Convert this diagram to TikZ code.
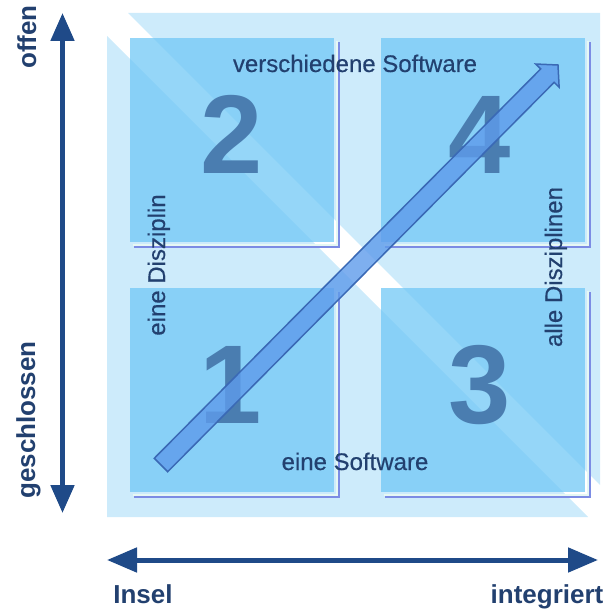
\documentclass[tikz,border=0pt]{standalone}
\usepackage{fontspec}
\setmainfont{Liberation Sans}
\newfontfamily\capfont[FakeBold=0.4]{Liberation Sans}
\usetikzlibrary{arrows.meta,calc}

\definecolor{bgblue}{HTML}{CDEBFB}
\definecolor{quadfill}{HTML}{71C8F6}
\definecolor{quadedge}{HTML}{7C8CE4}
\definecolor{quadlight}{HTML}{E6F8F4}
\definecolor{numblue}{HTML}{4A7DB0}
\definecolor{labelnavy}{HTML}{22406F}
\definecolor{axisnavy}{HTML}{1F4A88}
\definecolor{arrowfill}{HTML}{5E9BEB}
\definecolor{arrowedge}{HTML}{3A69B5}

\tikzset{
  quad/.style={fill=quadfill, fill opacity=0.75, draw=none, inner sep=0pt, outer sep=0pt,
    minimum width=204pt, minimum height=204pt, anchor=north west},
  quadshadow/.style={draw=quadedge, line width=2pt},
  quadglow/.style={draw=quadlight, line width=2pt},
  number/.style={font=\fontsize{112}{112}\selectfont\bfseries, text=numblue, anchor=base, inner sep=0pt},
  caption/.style={font=\capfont\fontsize{24}{28}\selectfont, text=labelnavy, inner sep=0pt, anchor=base},
  axislabel/.style={font=\fontsize{26}{30}\selectfont\bfseries, text=labelnavy, inner sep=0pt, anchor=base},
  axis/.style={draw=axisnavy, line width=5pt,
    {Triangle[length=28pt,width=23pt]}-{Triangle[length=28pt,width=23pt]}},
  progress/.style={fill=arrowfill, fill opacity=0.8, draw=arrowedge, line width=1.5pt, line join=miter}
}

\begin{document}
\begin{tikzpicture}[x=1pt,y=-1pt]
\useasboundingbox (0,0) rectangle (611,610);

% background: two triangles split by a pale diagonal
\fill[bgblue] (128,13) -- (600,13) -- (600,485) -- cycle;
\fill[bgblue] (107,36) -- (107,517) -- (588,517) -- cycle;

% the four quadrants
\node[quad] (q2) at (130,38) {};
\node[quad] (q4) at (381,38) {};
\node[quad] (q1) at (130,288) {};
\node[quad] (q3) at (381,288) {};

\foreach \q in {q1,q2,q3,q4}{
  \draw[quadglow] ($(\q.south west)+(3,2.5)$) -- ($(\q.south east)+(2.5,2.5)$) -- ($(\q.north east)+(2.5,3)$);
  \draw[quadshadow] ($(\q.south west)+(4,5)$) -- ($(\q.south east)+(5,5)$) -- ($(\q.north east)+(5,4)$);
}

% quadrant numbers
\node[number] (n2) at (232,173) {2};
\node[number] (n4) at (480,173) {4};
\node[number] (n1) at (231,423) {1};
\node[number] (n3) at (480,423) {3};

% captions inside the matrix
\node[caption] (top) at (355,72) {verschiedene Software};
\node[caption] (bottom) at (355,470) {eine Software};
\node[caption, rotate=90] (left) at (165,265) {eine Disziplin};
\node[caption, rotate=90] (right) at (562,267) {alle Disziplinen};

% diagonal development arrow
\coordinate (S) at (161,465);
\coordinate (T) at (558,65);
\coordinate (H) at ($(T)!15pt!(S)$);
\filldraw[progress]
  ($(S)!9.5pt!90:(T)$) -- ($(H)!9.5pt!-90:(S)$) -- ($(H)!16.5pt!-90:(S)$) -- (T)
  -- ($(H)!16.5pt!90:(S)$) -- ($(H)!9.5pt!90:(S)$) -- ($(S)!9.5pt!-90:(T)$) -- cycle;

% axes
\coordinate (vtop) at (62.5,13);
\coordinate (vbot) at (62.5,513);
\draw[axis] (vbot) -- (vtop);
\coordinate (hleft) at (107,560);
\coordinate (hright) at (598,560);
\draw[axis, {Triangle[length=30pt,width=24pt]}-{Triangle[length=30pt,width=24pt]}] (hleft) -- (hright);

% axis labels
\node[axislabel, rotate=90] (open) at (36,37) {offen};
\node[axislabel, rotate=90] (closed) at (35,420) {geschlossen};
\node[axislabel] (island) at (143,603) {Insel};
\node[axislabel] (integrated) at (547,603) {integriert};
\end{tikzpicture}
\end{document}
